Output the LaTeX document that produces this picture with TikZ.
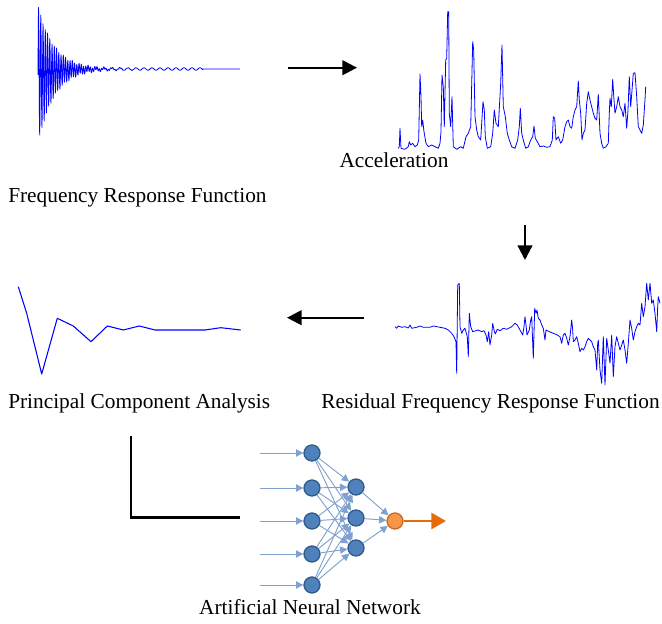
\documentclass[tikz,border=0pt]{standalone}
\usepackage{fontspec}
\setmainfont{Liberation Serif}
\usetikzlibrary{arrows.meta}
\definecolor{nnblue}{HTML}{4F81BD}
\definecolor{nnedge}{HTML}{2E5A8C}
\definecolor{nnline}{HTML}{7FA1CF}
\definecolor{nnorange}{HTML}{F79646}
\definecolor{nnorangeedge}{HTML}{C46A2A}
\definecolor{nnarrow}{HTML}{E46C0A}
\begin{document}
\begin{tikzpicture}[x=0.75pt,y=-0.75pt,
  lbl/.style={inner sep=0pt,font=\fontsize{16}{19}\selectfont},
  sig/.style={draw=blue,line width=0.6pt,line join=round},
  flow/.style={line width=1.7pt,-{Triangle[length=11pt,width=11pt]}},
  neuron/.style={circle,minimum size=12pt,inner sep=0pt,fill=nnblue,draw=nnedge,line width=1pt},
  outneuron/.style={circle,minimum size=12pt,inner sep=0pt,fill=nnorange,draw=nnorangeedge,line width=1pt},
  wire/.style={draw=nnline,line width=0.7pt,-{Triangle[length=5.5pt,width=5.5pt]}}]
\useasboundingbox (0,0) rectangle (662,624);

% Frequency response function
\draw[sig] plot[domain=0:202,samples=809] ({38+\x},{69-(70*exp(-\x/16)*sin(mod(\x,9)*160)-6*exp(-\x/16))-1.2*sin(\x*45)*(\x<165)});

% Acceleration
\draw[sig] plot coordinates {(398.3,148.3) (399.3,146.7) (400,128.3) (401,148.3) (405,149.3) (408.3,146.7) (409.3,141.7) (410.7,145) (412.7,143.3) (415,146.7) (417.3,145) (418.7,140) (420,74) (421,96.7) (421.7,126.7) (422.7,120) (424,131.7) (426,143.3) (428.3,146.7) (431.7,145) (435,146.7) (438.3,148.3) (440,143.3) (441,131.7) (442,75) (443.3,86.7) (444.3,126.7) (445.7,60) (446.7,58.3) (447.7,11.7) (448.7,11.7) (449.3,113.3) (450.7,126.7) (452,96.7) (453.3,146.7) (456.7,149.3) (460.7,146.7) (463.3,148.3) (466,136.7) (468.3,133.3) (470.7,126.7) (472.7,41.7) (473.7,50) (475,116.7) (476.7,130) (478.3,136.7) (480.7,140) (483,101.7) (484.3,110) (485.3,136.7) (487.3,148.3) (490.7,146.7) (492.7,133.3) (494.3,110) (496,123.3) (498.3,126.7) (500.7,83.3) (502,45) (503.3,106.7) (505.3,116.7) (507.3,133.3) (509.3,140) (511.7,146.7) (515,148.3) (517.7,140) (519.3,126.7) (520.3,108.3) (521.7,133.3) (523.3,140) (525.7,148.3) (528.3,146.7) (530.7,140) (532.7,136.7) (534,126) (535.3,138.3) (537.3,141.7) (540,146.7) (543.3,146) (546.7,147.3) (550,146.7) (552.3,140) (553.3,116.7) (554.7,118.3) (556,140) (558.3,136.7) (560.7,143.3) (562.7,140) (565,126.7) (566.7,121.7) (568.3,120) (570,126.7) (571.7,128.3) (573.3,116.7) (575,110) (576.7,106.7) (578.3,81) (579.3,100) (580.7,113.3) (582,140) (583.3,133.3) (585,130) (586.7,103.3) (588.3,91.7) (590,100) (591.7,106.7) (593.3,113.3) (595,118.3) (596.7,120) (598.3,94.3) (600,133.3) (601.7,143.3) (603.3,148.3) (606,146.7) (608.3,143.3) (609.3,113.3) (610,98.3) (611.3,106.7) (612.7,79.3) (614,100) (615,113.3) (616.7,106.7) (618.3,96.7) (620,106.7) (621.7,110) (623.3,116.7) (625,103.3) (626.7,128.3) (628,110) (629.3,76.7) (630.7,106.7) (632.3,86.7) (633.3,73.3) (635,72.7) (636.7,96.7) (638.3,126.7) (640,130) (641.7,133.3) (643.3,125) (645,100) (645.7,86.7)};

% Residual FRF
\draw[sig] plot coordinates {(395,326.7) (396.7,328.3) (398.3,326) (401.7,327.3) (405,326.7) (408.3,328) (410,325) (411.7,328.3) (416.7,327.3) (420,326) (423.3,327.3) (430,327.3) (433.3,326) (440,327.3) (445,328.3) (448.3,330) (451.7,333.3) (454,336.7) (456,341.7) (456.7,373.3) (457.7,285) (459.3,283.3) (460,326.7) (461.7,333.3) (463.3,330) (465,328.3) (467.3,336.7) (468.3,356.7) (469.3,313.3) (470.7,326.7) (472.7,331.7) (476,330.7) (478.3,330) (481.7,331.7) (484,330.7) (486,335) (487.3,341.7) (488.7,331.7) (490,345) (491.7,335) (492.7,323.3) (494,330) (495.3,334) (497.3,329.3) (500,330.7) (503.3,328.3) (506.7,329.3) (511.7,326.7) (515,323.3) (517.3,325) (520,330) (522.7,335) (524,326.7) (525,316.7) (526,325) (527,335) (529.3,330) (530.7,320) (531.7,316.7) (533.3,358.3) (534.7,308.3) (536,313.3) (537,310) (538.3,318.3) (540,320) (541.7,325) (543.3,328.3) (545,340) (546,330) (549.3,331.7) (553.3,333.3) (557.3,335) (560,336.7) (561.7,343.3) (563.3,335) (565,333.3) (566.7,338.3) (568.3,345) (570,336.7) (571.7,320) (572.7,330) (573.3,341.7) (575,340) (576.7,336.7) (578.3,343.3) (580,351.7) (581.7,348.3) (583.3,350) (585,346.7) (586.7,341.7) (588.3,338.3) (590,340) (591.7,341.7) (593.3,346.7) (595,350) (596.7,370) (597.7,343.3) (598.3,340) (600,370) (601.7,383.3) (602.7,353.3) (603.3,336.7) (605,385) (606,356.7) (606.7,338.3) (608.3,350) (610,363.3) (611.7,335) (613.3,376.7) (615,346.7) (616.7,336.7) (618.3,343.3) (620,350) (621.7,345) (623.3,340) (625,350) (626.7,363.3) (628.3,343.3) (630,320) (631.7,328.3) (633.3,340) (635,331.7) (636.7,326.7) (638.3,323.3) (640,325) (641.7,303.3) (643.3,316.7) (645,306.7) (646.7,283.3) (648.3,300) (650,283.3) (651.7,303.3) (653.3,300) (655,313.3) (656.7,331.7) (657.7,306.7) (658.3,296.7) (660,303.3)};

% PCA
\draw[sig,line width=0.8pt] plot coordinates {(18.3,286.7) (26.7,313.3) (41.7,374) (57.3,318.3) (73.3,326) (91,341.7) (107.3,326) (123.3,330) (139.3,326) (155,330) (205,330) (220.7,327.7) (240.7,330)};

% Labels
\node[lbl,anchor=base west] (frf) at (8,203) {Frequency Response Function};
\node[lbl,anchor=base] (acc) at (394,168) {Acceleration};
\node[lbl,anchor=base west] (pca) at (8,409) {Principal Component Analysis};
\node[lbl,anchor=base east] (rfrf) at (660,409) {Residual Frequency Response Function};
\node[lbl,anchor=base] (ann) at (310,615) {Artificial Neural Network};

% Flow arrows
\coordinate (a1s) at (288,67.7); \coordinate (a1e) at (357,67.7);
\coordinate (a2s) at (525,225); \coordinate (a2e) at (525,260);
\coordinate (a3s) at (364,317.7); \coordinate (a3e) at (287,317.7);
\draw[flow] (a1s) -- (a1e);
\draw[flow] (a2s) -- (a2e);
\draw[flow] (a3s) -- (a3e);

% L connector
\coordinate (l1) at (131,436); \coordinate (l2) at (131,517.5); \coordinate (l3) at (240,517.5);
\draw[line width=2.2pt] (l1) -- (l2) -- (l3);

% ANN
\foreach \i/\y in {1/453,2/488,3/521,4/554,5/585}{
  \node[neuron] (i\i) at (312,\y) {};
  \coordinate (in\i) at (260,\y);
}
\foreach \i/\y in {1/487,2/518,3/548}{
  \node[neuron] (h\i) at (356,\y) {};
}
\node[outneuron] (o) at (395,521) {};
\coordinate (out) at (446,521);
\foreach \i in {1,...,5}{ \draw[wire] (in\i) -- (i\i); }
\foreach \i in {1,...,5}{ \foreach \j in {1,2,3}{ \draw[wire] (i\i) -- (h\j); } }
\foreach \j in {1,2,3}{ \draw[wire] (h\j) -- (o); }
\draw[draw=nnarrow,line width=2.2pt,-{Triangle[length=11pt,width=12pt]}] (o) -- (out);
\end{tikzpicture}
\end{document}
